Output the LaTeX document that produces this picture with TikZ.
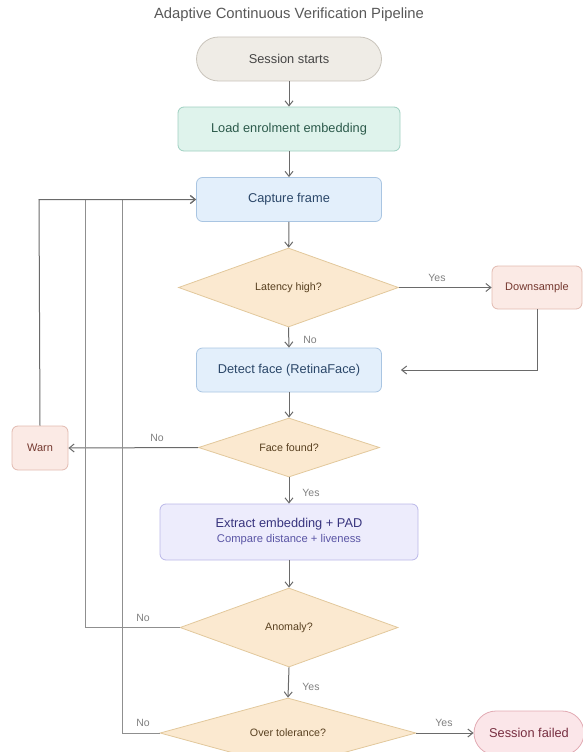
\documentclass[tikz,border=0pt]{standalone}
\usepackage{fontspec}
\setmainfont{Liberation Sans}
\usetikzlibrary{shapes.geometric,arrows.meta}

\definecolor{lineC}{HTML}{6A6A6A}
\definecolor{startF}{HTML}{EFECE6}\definecolor{startD}{HTML}{C9C4BB}\definecolor{startT}{HTML}{454545}
\definecolor{loadF}{HTML}{DFF3EC}\definecolor{loadD}{HTML}{9FD0C1}\definecolor{loadT}{HTML}{2C5A4B}
\definecolor{procF}{HTML}{E3EFFB}\definecolor{procD}{HTML}{A9C5E2}\definecolor{procT}{HTML}{2B4769}
\definecolor{decF}{HTML}{FBE9D0}\definecolor{decD}{HTML}{E2C89C}\definecolor{decT}{HTML}{584020}
\definecolor{warnF}{HTML}{FBEAE5}\definecolor{warnD}{HTML}{E2BAB0}\definecolor{warnT}{HTML}{75382F}
\definecolor{extF}{HTML}{EDECFC}\definecolor{extD}{HTML}{BAB7E8}\definecolor{extT}{HTML}{38347E}\definecolor{extS}{HTML}{5A55A5}
\definecolor{failF}{HTML}{FBE6E9}\definecolor{failD}{HTML}{E2AAB3}\definecolor{failT}{HTML}{772E40}

\tikzset{
  box/.style={draw, rounded corners=6pt, line width=0.8pt, minimum height=44pt, align=center, font=\fontsize{12.8}{14}\selectfont},
  terminal/.style={box, rounded corners=22pt},
  decision/.style={diamond, draw, line width=0.8pt, aspect=2.8, inner sep=0pt, fill=decF, draw=decD, text=decT, font=\fontsize{10.7}{12}\selectfont},
  flow/.style={draw=lineC, line width=1pt, -{Straight Barb[length=5pt,width=8pt]}},
  loopline/.style={draw=lineC!75, line width=1pt, -{Straight Barb[length=5pt,width=8pt]}},
  lbl/.style={text=lineC!85, font=\fontsize{10.5}{12}\selectfont},
}

\begin{document}
\begin{tikzpicture}[x=1pt,y=-1pt]
\useasboundingbox (0,0) rectangle (583,752);
\clip (0,0) rectangle (583,752);

\node[text=startT!90, font=\fontsize{14.8}{17}\selectfont] (title) at (289,15) {Adaptive Continuous Verification Pipeline};

% main column
\node[terminal, minimum width=185pt, fill=startF, draw=startD, text=startT] (start) at (289,59) {Session starts};
\node[box, minimum width=222pt, fill=loadF, draw=loadD, text=loadT] (load) at (289,129) {Load enrolment embedding};
\node[box, minimum width=185pt, fill=procF, draw=procD, text=procT] (capture) at (289,199.5) {Capture frame};
\node[decision, minimum width=220pt, minimum height=79pt] (latency) at (288.5,287.5) {Latency high?};
\node[box, minimum width=90pt, minimum height=43pt, fill=warnF, draw=warnD, text=warnT, font=\fontsize{11}{13}\selectfont] (down) at (537,287.5) {Downsample};
\node[box, minimum width=185pt, fill=procF, draw=procD, text=procT] (detect) at (289,370) {Detect face (RetinaFace)};
\node[decision, minimum width=181pt, minimum height=59pt] (face) at (289,447.5) {Face found?};
\node[box, minimum width=56pt, fill=warnF, draw=warnD, text=warnT, font=\fontsize{11}{13}\selectfont] (warn) at (40,448) {Warn};
\node[box, minimum width=258pt, minimum height=56pt, fill=extF, draw=extD, text=extT] (extract) at (289,532)
  {Extract embedding + PAD\\[1pt]{\color{extS}\fontsize{11.2}{12}\selectfont Compare distance + liveness}};
\node[decision, minimum width=218pt, minimum height=79pt] (anomaly) at (289,627.5) {Anomaly?};
\node[decision, minimum width=256pt, minimum height=70pt] (over) at (288,733) {Over tolerance?};
\node[terminal, minimum width=110pt, fill=failF, draw=failD, text=failT] (fail) at (529,733) {Session failed};

% junctions of the return lines
\coordinate (jw) at (39,199.5);
\coordinate (ja) at (85.5,199.5);
\coordinate (jo) at (122,199.5);

% forward flow
\draw[flow] (start) -- (load);
\draw[flow] (load) -- (capture);
\draw[flow] (capture) -- (latency);
\draw[flow] (latency.east) -- (down.west);
\draw[flow] (latency.south) -- (detect.north);
\draw[flow, shorten >=19pt] (down.south) |- (detect.east);
\draw[flow] (detect) -- (face.north);
\draw[flow] (face.west) -- (warn.east);
\draw[flow] (face.south) -- (extract.north);
\draw[flow] (extract) -- (anomaly.north);
\draw[flow] (anomaly.south) -- (over.north);
\draw[flow] (over.east) -- (fail.west);

% return lines to capture
\draw[loopline] (anomaly.west) -| (ja) -- (capture.west);
\draw[loopline] (over.west) -| (jo) -- (capture.west);
\draw[flow] (warn.north) -- (jw) -- (capture.west);

% branch labels
\node[lbl] (l1) at (437,278) {Yes};
\node[lbl] (l2) at (310,340) {No};
\node[lbl] (l3) at (157,438) {No};
\node[lbl] (l4) at (311,493) {Yes};
\node[lbl] (l5) at (143,618) {No};
\node[lbl] (l6) at (311,687) {Yes};
\node[lbl] (l7) at (143,723) {No};
\node[lbl] (l8) at (444,723) {Yes};
\end{tikzpicture}
\end{document}
